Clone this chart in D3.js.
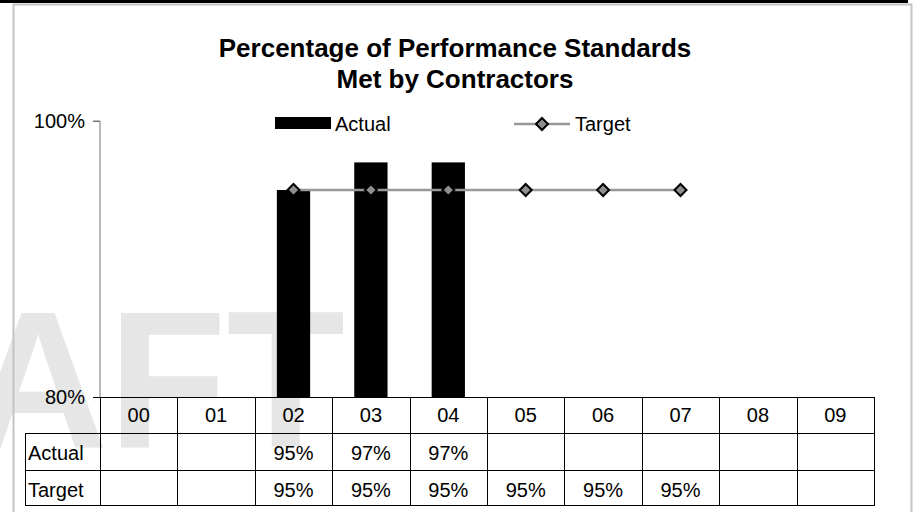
<!DOCTYPE html>
<html>
<head>
<meta charset="utf-8">
<script src="https://cdn.jsdelivr.net/npm/d3@7"></script>
<style>
  body { margin: 0; background: #fff; }
  svg { display: block; font-family: "Liberation Sans", Arial, sans-serif; }
</style>
</head>
<body>
<svg id="chart" width="914" height="512"></svg>
<script>
// data
var years = ["00", "01", "02", "03", "04", "05", "06", "07", "08", "09"];
var actual = [null, null, 0.95, 0.97, 0.97, null, null, null, null, null];
var target = [null, null, 0.95, 0.95, 0.95, 0.95, 0.95, 0.95, null, null];
var yTicks = [0.80, 1.00];
var seriesNames = ["Actual", "Target"];
var titleLines = ["Percentage of Performance Standards", "Met by Contractors"];

var svg = d3.select("#chart");
var W = 914, H = 512;
var margin = {top: 121, right: 40, bottom: 115, left: 100};

var pct = d3.format(".0%");

var x = d3.scaleBand()
    .domain(years)
    .range([margin.left, 874])
    .padding(0);

var y = d3.scaleLinear()
    .domain([0.80, 1.00])
    .range([H - margin.bottom, margin.top]);

// watermark (mostly cut off on the left, like the original)
svg.append("text")
    .attr("x", 345).attr("y", 447)
    .attr("text-anchor", "end")
    .attr("font-size", 194)
    .attr("font-weight", "bold")
    .attr("fill", "#e6e6e6")
    .text("DRAFT");

// frame
svg.append("line").attr("x1", 0).attr("x2", 908).attr("y1", 1.5).attr("y2", 1.5)
    .attr("stroke", "#000").attr("stroke-width", 3);
svg.append("path")
    .attr("d", "M13.5,512 V4.5 H911.5 V512")
    .attr("fill", "none").attr("stroke", "#c4c4c4").attr("stroke-width", 2);

// title
svg.append("g").selectAll("text")
    .data(titleLines)
    .join("text")
    .attr("x", 455)
    .attr("y", (d, i) => 57 + i * 31)
    .attr("text-anchor", "middle")
    .attr("font-size", 26)
    .attr("font-weight", "bold")
    .text(d => d);

// y axis
var yAxis = svg.append("g")
    .attr("transform", `translate(${margin.left},0)`)
    .call(d3.axisLeft(y).tickValues(yTicks).tickFormat(pct).tickSize(7).tickPadding(8));
yAxis.select(".domain").attr("stroke", "#777").attr("d", `M-7,${y(1)}H0V${y(0.8)}`);
yAxis.selectAll(".tick line").attr("stroke", "#777");
yAxis.selectAll(".tick text").attr("font-size", 20).attr("font-family", "Liberation Sans, Arial, sans-serif").attr("fill", "#000");

// bars
var barW = x.bandwidth() * 0.43;
svg.append("g").selectAll("rect")
    .data(years.map((d, i) => ({year: d, v: actual[i]})).filter(d => d.v != null))
    .join("rect")
    .attr("x", d => x(d.year) + x.bandwidth() / 2 - barW / 2)
    .attr("width", barW)
    .attr("y", d => y(d.v))
    .attr("height", d => y(0.8) - y(d.v))
    .attr("fill", "#000");

// target line
var tData = years.map((d, i) => ({year: d, v: target[i]})).filter(d => d.v != null);
var line = d3.line()
    .x(d => x(d.year) + x.bandwidth() / 2)
    .y(d => y(d.v));
svg.append("path")
    .datum(tData)
    .attr("d", line)
    .attr("fill", "none")
    .attr("stroke", "#999")
    .attr("stroke-width", 2.5);

var diamond = "M0,-6L6,0L0,6L-6,0Z";
svg.append("g").selectAll("path")
    .data(tData)
    .join("path")
    .attr("transform", d => `translate(${x(d.year) + x.bandwidth() / 2},${y(d.v)})`)
    .attr("d", diamond)
    .attr("fill", "#8f8f8f")
    .attr("stroke", "#000")
    .attr("stroke-width", 2);

// x axis line at 80%
svg.append("line")
    .attr("x1", margin.left - 7).attr("x2", x.range()[1])
    .attr("y1", y(0.8) + 0.5).attr("y2", y(0.8) + 0.5)
    .attr("stroke", "#000");

// legend
var legend = svg.append("g");
legend.append("rect").attr("x", 275).attr("y", 117).attr("width", 56).attr("height", 12).attr("fill", "#000");
legend.append("text").attr("x", 335).attr("y", 131).attr("font-size", 20).text(seriesNames[0]);
legend.append("line").attr("x1", 514).attr("x2", 570).attr("y1", 124).attr("y2", 124)
    .attr("stroke", "#999").attr("stroke-width", 2.5);
legend.append("path").attr("transform", "translate(542,124)").attr("d", diamond)
    .attr("fill", "#8f8f8f").attr("stroke", "#000").attr("stroke-width", 2);
legend.append("text").attr("x", 575).attr("y", 131).attr("font-size", 20).text(seriesNames[1]);

// data table
var rowTop = [y(0.8), 433, 470];
var labelLeft = 25;
var tbl = svg.append("g").attr("shape-rendering", "crispEdges");
var x1 = x.range()[1];

[433, 470, 505].forEach(function (yy) {
    tbl.append("line").attr("x1", labelLeft).attr("x2", x1)
        .attr("y1", yy + 0.5).attr("y2", yy + 0.5).attr("stroke", "#000");
});
years.forEach(function (d) {
    tbl.append("line").attr("x1", x(d) + 0.5).attr("x2", x(d) + 0.5)
        .attr("y1", rowTop[0]).attr("y2", 505).attr("stroke", "#000");
});
tbl.append("line").attr("x1", x1 + 0.5).attr("x2", x1 + 0.5)
    .attr("y1", rowTop[0]).attr("y2", 506).attr("stroke", "#000");
tbl.append("line").attr("x1", labelLeft + 0.5).attr("x2", labelLeft + 0.5)
    .attr("y1", 433).attr("y2", 506).attr("stroke", "#000");

var txt = svg.append("g").attr("font-size", 20);
txt.selectAll(".cat")
    .data(years)
    .join("text")
    .attr("class", "cat")
    .attr("x", d => x(d) + x.bandwidth() / 2)
    .attr("y", 422)
    .attr("text-anchor", "middle")
    .text(d => d);

[actual, target].forEach(function (vals, r) {
    txt.append("text").attr("x", 28).attr("y", rowTop[r + 1] + 27).text(seriesNames[r]);
    txt.selectAll(".v" + r)
        .data(years.map((d, i) => ({year: d, v: vals[i]})).filter(d => d.v != null))
        .join("text")
        .attr("class", "v" + r)
        .attr("x", d => x(d.year) + x.bandwidth() / 2)
        .attr("y", rowTop[r + 1] + 27)
        .attr("text-anchor", "middle")
        .text(d => pct(d.v));
});
</script>
</body>
</html>
